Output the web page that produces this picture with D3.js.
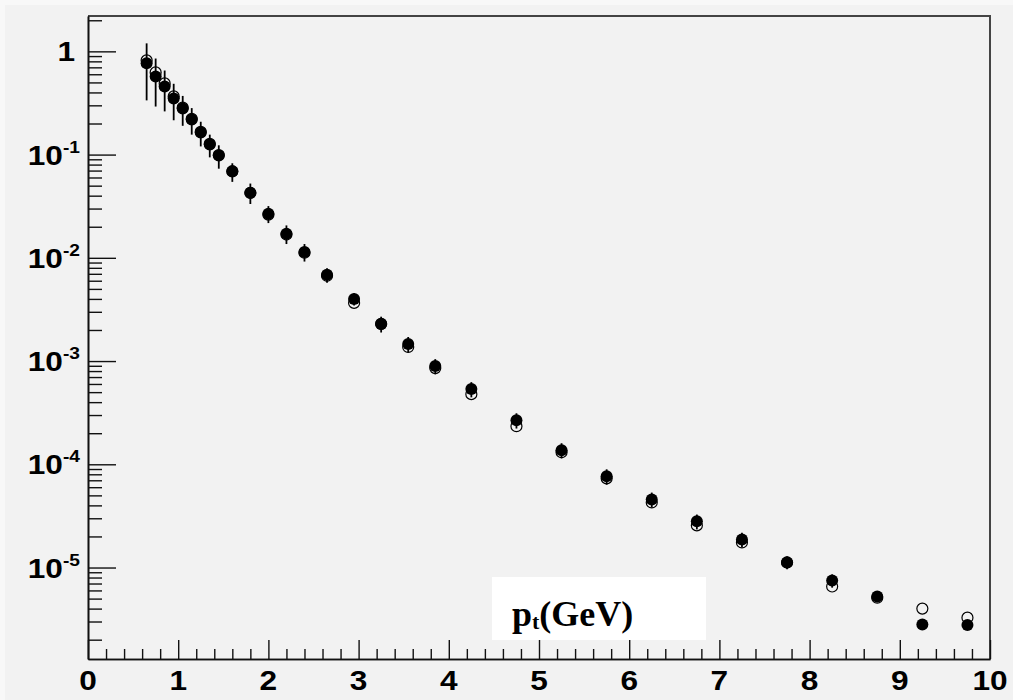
<!DOCTYPE html>
<html>
<head>
<meta charset="utf-8">
<script src="https://cdn.jsdelivr.net/npm/d3@7"></script>
<style>
  html, body { margin: 0; padding: 0; background: #f8f8f8; }
  svg { display: block; }
</style>
</head>
<body>
<svg id="chart" width="1013" height="700"></svg>
<script>
// Bin centres in transverse momentum (GeV)
const ptBins = [0.65, 0.75, 0.85, 0.95, 1.05, 1.15, 1.25, 1.35, 1.45, 1.6, 1.8,
  2.0, 2.2, 2.4, 2.65, 2.95, 3.25, 3.55, 3.85, 4.25, 4.75, 5.25, 5.75, 6.25,
  6.75, 7.25, 7.75, 8.25, 8.75, 9.25, 9.75];

// Filled-marker spectrum and its uncertainties
const filledYield = [0.765, 0.572, 0.457, 0.35, 0.28, 0.219, 0.164, 0.125, 0.098,
  0.0684, 0.0428, 0.0267, 0.0171, 0.0114, 0.00684, 0.0040, 0.00229, 0.00146,
  0.000894, 5.35e-4, 2.67e-4, 1.37e-4, 7.64e-5, 4.57e-5, 2.80e-5, 1.87e-5,
  1.12e-5, 7.48e-6, 5.23e-6, 2.80e-6, 2.78e-6];
const filledErr = [0.43, 0.28, 0.195, 0.135, 0.09, 0.063, 0.044, 0.031, 0.025,
  0.014, 0.0096, 0.005, 0.0035, 0.0022, 0.0011, 0.00055, 0.0004, 0.00025,
  0.00015, 9e-5, 4.5e-5, 2.3e-5, 1.3e-5, 7.5e-6, 4.6e-6, 3e-6, 1.6e-6,
  1.1e-6, 5e-7, 3e-7, 3e-7];

// Open-marker spectrum
const openYield = [0.818, 0.625, 0.489, 0.366, 0.285, 0.222, 0.166, 0.127, 0.099,
  0.069, 0.0425, 0.0262, 0.0168, 0.0112, 0.0067, 0.00366, 0.00229, 0.00137,
  0.000855, 4.78e-4, 2.34e-4, 1.31e-4, 7.31e-5, 4.27e-5, 2.56e-5, 1.75e-5,
  1.12e-5, 6.55e-6, 5.1e-6, 4.0e-6, 3.27e-6];

// Axis ticks and labels
const xTickValues = [0, 1, 2, 3, 4, 5, 6, 7, 8, 9, 10];
const xTickLabels = ["0", "1", "2", "3", "4", "5", "6", "7", "8", "9", "10"];
const yDecades = [0, -1, -2, -3, -4, -5];
const xTitle = { main: "p", sub: "t", rest: "(GeV)" };

const svg = d3.select("#chart");
const W = 1013, H = 700;
const plot = { left: 88, right: 990, top: 16, bottom: 659 };

// Canvas
svg.append("rect").attr("x", 0).attr("y", 0).attr("width", W).attr("height", H)
  .attr("fill", "#f8f8f8");
svg.append("rect").attr("x", 5).attr("y", 5).attr("width", W - 5).attr("height", H - 5)
  .attr("fill", "#f2f2f2");

const x = d3.scaleLinear().domain([0, 10]).range([plot.left, plot.right]);
const y = d3.scaleLog().domain([1.3e-6, 2.2]).range([plot.bottom, plot.top]);

const labelFont = "'Liberation Sans', Arial, Helvetica, sans-serif";
const labelStretch = 1.13;

// Frame: top and right edges
svg.append("path")
  .attr("d", `M${plot.left},${plot.top}H${plot.right}V${plot.bottom}`)
  .attr("fill", "none").attr("stroke", "#444").attr("stroke-width", 2);

// X axis (ticks point into the plot)
const xMinor = d3.range(0, 50).map(i => i * 0.2).filter(v => Math.abs(v - Math.round(v)) > 1e-6);
const gxMinor = svg.append("g").attr("transform", `translate(0,${plot.bottom})`)
  .call(d3.axisTop(x).tickValues(xMinor).tickSize(10).tickSizeOuter(0).tickFormat(""));
const gx = svg.append("g").attr("transform", `translate(0,${plot.bottom})`)
  .call(d3.axisTop(x).tickValues(xTickValues).tickSize(19).tickSizeOuter(0).tickFormat(""));
[gxMinor, gx].forEach(g => {
  g.selectAll(".tick text").remove();
  g.selectAll("line").attr("stroke", "#111").attr("stroke-width", 1.4);
  g.select(".domain").attr("stroke", "#111").attr("stroke-width", 1.6);
});

svg.append("g").selectAll("g").data(xTickValues).join("g")
  .attr("transform", d => `translate(${x(d)},690) scale(${labelStretch},1)`)
  .append("text")
  .attr("text-anchor", "middle")
  .attr("font-family", labelFont).attr("font-weight", "bold").attr("font-size", 28)
  .attr("fill", "#000")
  .text((d, i) => xTickLabels[i]);

// Y axis (log, ticks point into the plot)
const yMajor = yDecades.map(k => Math.pow(10, k));
const yMinor = [];
for (let k = -6; k <= 0; k++) {
  for (let m = 2; m <= 9; m++) {
    const v = m * Math.pow(10, k);
    if (v >= y.domain()[0] && v <= y.domain()[1]) yMinor.push(v);
  }
}
const gyMinor = svg.append("g").attr("transform", `translate(${plot.left},0)`)
  .call(d3.axisRight(y).tickValues(yMinor).tickSize(14).tickSizeOuter(0).tickFormat(""));
const gy = svg.append("g").attr("transform", `translate(${plot.left},0)`)
  .call(d3.axisRight(y).tickValues(yMajor).tickSize(28).tickSizeOuter(0).tickFormat(""));
[gyMinor, gy].forEach(g => {
  g.selectAll(".tick text").remove();
  g.selectAll("line").attr("stroke", "#111").attr("stroke-width", 1.4);
  g.select(".domain").attr("stroke", "#111").attr("stroke-width", 1.6);
});

const yLabels = svg.append("g").selectAll("g").data(yDecades).join("g")
  .attr("transform", d => `translate(${d === 0 ? 75 : 80},${y(Math.pow(10, d)) + 10}) scale(${labelStretch},1)`)
  .append("text")
  .attr("text-anchor", "end")
  .attr("font-family", labelFont).attr("font-weight", "bold").attr("font-size", 28)
  .attr("fill", "#000");
yLabels.each(function (d) {
  const t = d3.select(this);
  if (d === 0) {
    t.text("1");
  } else {
    t.append("tspan").text("10");
    t.append("tspan").attr("dy", -12).attr("font-size", 17).text(String(d));
  }
});

// Error bars on the filled series
svg.append("g").selectAll("line").data(ptBins).join("line")
  .attr("x1", d => x(d)).attr("x2", d => x(d))
  .attr("y1", (d, i) => y(filledYield[i] + filledErr[i]))
  .attr("y2", (d, i) => y(filledYield[i] - filledErr[i]))
  .attr("stroke", "#000").attr("stroke-width", 1.8);

// Open markers
svg.append("g").selectAll("circle").data(ptBins).join("circle")
  .attr("cx", d => x(d)).attr("cy", (d, i) => y(openYield[i]))
  .attr("r", 5.5)
  .attr("fill", "none").attr("stroke", "#000").attr("stroke-width", 1.2);

// Filled markers
svg.append("g").selectAll("circle").data(ptBins).join("circle")
  .attr("cx", d => x(d)).attr("cy", (d, i) => y(filledYield[i]))
  .attr("r", 6)
  .attr("fill", "#000");

// Axis title box
svg.append("rect").attr("x", 492).attr("y", 577).attr("width", 214).attr("height", 63)
  .attr("fill", "#fff");
const title = svg.append("text").attr("x", 512).attr("y", 626)
  .attr("font-family", "'Liberation Serif', 'Times New Roman', serif")
  .attr("font-weight", "bold").attr("font-size", 36).attr("fill", "#000");
title.append("tspan").text(xTitle.main);
title.append("tspan").attr("font-size", 22).attr("dy", 3).text(xTitle.sub);
title.append("tspan").attr("dy", -3).text(xTitle.rest);
</script>
</body>
</html>
